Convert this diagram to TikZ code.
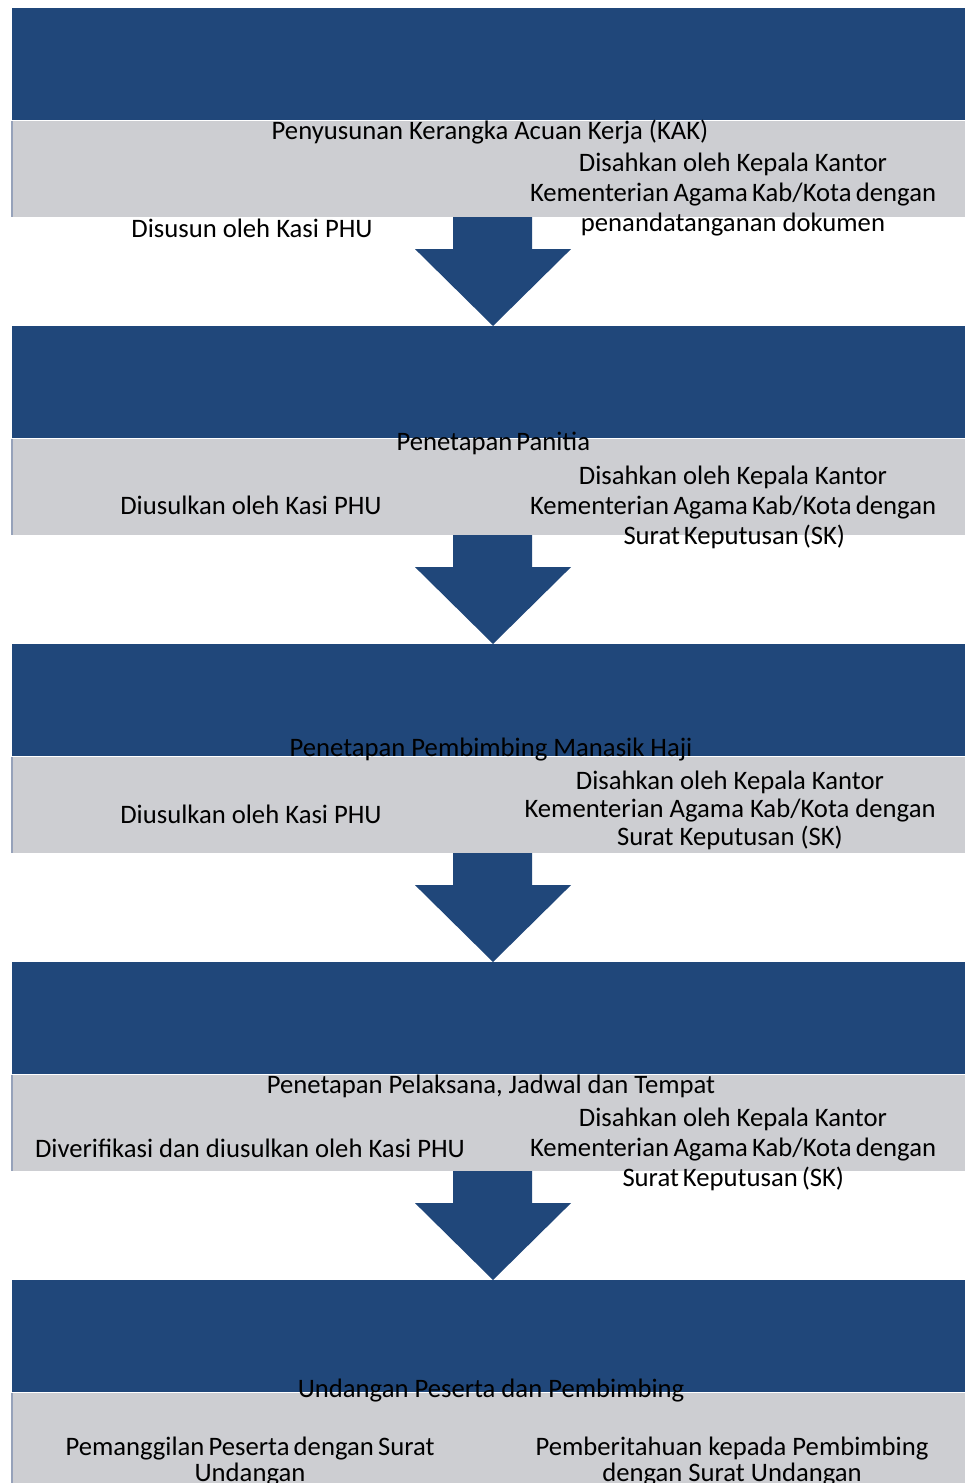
\documentclass[tikz,border=0pt]{standalone}
\usepackage{fontspec}
\setmainfont{Carlito}
\usetikzlibrary{calc}
\definecolor{bandblue}{RGB}{32,71,122}
\definecolor{bandgray}{RGB}{205,206,210}
\definecolor{bandedge}{RGB}{150,162,186}
\newcommand{\spread}[2]{\makebox[\dimexpr #1pt*3/4\relax][s]{#2}}

\begin{document}
\begin{tikzpicture}[
      x=0.75pt, y=-0.75pt,
      every node/.style={inner sep=0pt, font=\fontsize{20}{22.5}\selectfont},
      bluebar/.style={fill=bandblue, minimum width=714.75pt, minimum height=84pt, anchor=north west},
      graybar/.style={fill=bandgray, minimum width=714.75pt, minimum height=72pt, anchor=north west},
      info/.style={align=center},
      flow/.style={fill=bandblue},
      rim/.style={draw=bandedge, line width=1pt}
    ]
      \useasboundingbox (0,0) rectangle (965,1483);

      \foreach \i in {1,...,5}{
        \node[bluebar] (top\i) at (12,{8+318*(\i-1)}) {};
        \node[graybar] (box\i) at (top\i.south west) {};
        \draw[rim] (box\i.north west) -- (box\i.south west);
      }

      \foreach \i [evaluate=\i as \j using int(\i+1)] in {1,...,4}{
        \fill[flow] ($(box\i.south west)+(441,0)$) -- ++(0,32) -- ++(-38,0)
          -- ($(top\j.north west)+(481,0)$) -- ($(box\i.south west)+(559,32)$)
          -- ++(-39,0) -- ($(box\i.south west)+(520,0)$) -- cycle;
      }

      \node (title1) at (490,132) {Penyusunan Kerangka Acuan Kerja (KAK)};
      \node (by1) at (252,228) {Disusun oleh Kasi PHU};
      \node[info] (ok1) at (733,195) {Disahkan oleh Kepala Kantor\\
        \spread{406}{Kementerian Agama Kab/Kota dengan}\\ penandatanganan dokumen};

      \node (title2) at (490,443) {\spread{187}{Penetapan Panitia}};
      \node (by2) at (251,505) {Diusulkan oleh Kasi PHU};
      \node[info] (ok2) at (733,507) {Disahkan oleh Kepala Kantor\\
        \spread{406}{Kementerian Agama Kab/Kota dengan}\\ \spread{219}{Surat Keputusan (SK)}};

      \node (title3) at (491,750) {Penetapan Pembimbing Manasik Haji};
      \node (by3) at (251,814) {Diusulkan oleh Kasi PHU};
      \node[info, font=\fontsize{20}{21}\selectfont] (ok3) at (730,810) {Disahkan oleh Kepala Kantor\\
        Kementerian Agama Kab/Kota dengan\\ Surat Keputusan (SK)};

      \node (title4) at (491,1086) {Penetapan Pelaksana, Jadwal dan Tempat};
      \node (by4) at (250,1148) {Diverifikasi dan diusulkan oleh Kasi PHU};
      \node[info] (ok4) at (733,1149) {Disahkan oleh Kepala Kantor\\
        \spread{406}{Kementerian Agama Kab/Kota dengan}\\ \spread{221}{Surat Keputusan (SK)}};

      \node (title5) at (491,1391) {Undangan Peserta dan Pembimbing};
      \node[info, font=\fontsize{20}{19.5}\selectfont] (by5) at (250,1462)
        {\spread{369}{Pemanggilan Peserta dengan Surat}\\ Undangan};
      \node[info, font=\fontsize{20}{19.5}\selectfont] (ok5) at (732,1462)
        {Pemberitahuan kepada Pembimbing\\ dengan Surat Undangan};
    \end{tikzpicture}
\end{document}
